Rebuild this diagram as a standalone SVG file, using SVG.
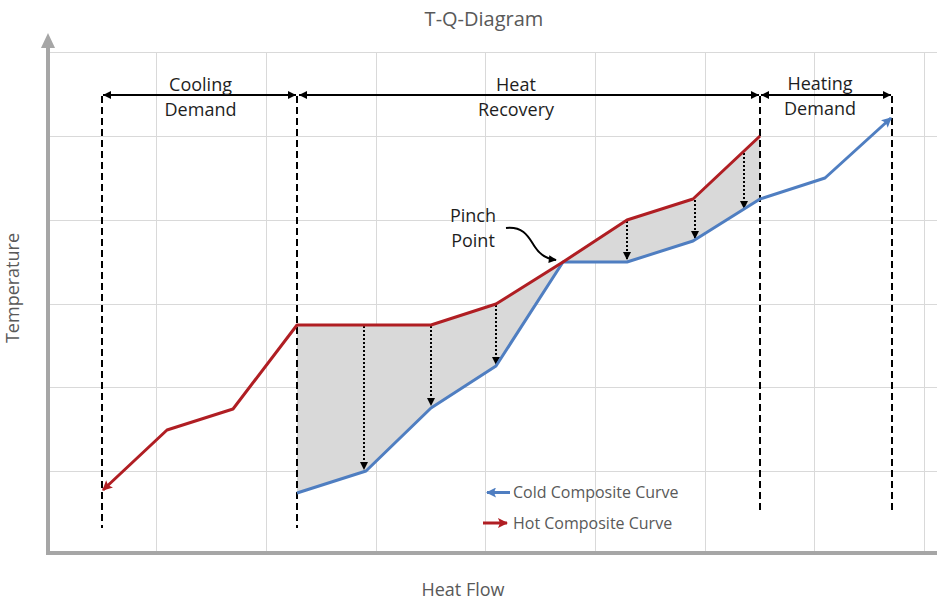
<svg xmlns="http://www.w3.org/2000/svg" width="937" height="603" viewBox="0 0 937 603">
  <style>
    .grid { stroke: #d9d9d9; stroke-width: 1; fill: none; }
    .axis { stroke: #a6a6a6; stroke-width: 4; fill: none; }
    .bound { stroke: #000; stroke-width: 2; stroke-dasharray: 7 4; fill: none; }
    .span { stroke: #000; stroke-width: 2; fill: none; marker-start: url(#tip); marker-end: url(#tip); }
    .drop { stroke: #000; stroke-width: 2; stroke-dasharray: 2 2; fill: none; marker-end: url(#dropTip); }
    .hot { stroke: #b01e23; stroke-width: 3; fill: none; stroke-linejoin: round; }
    .cold { stroke: #4f7ec1; stroke-width: 3; fill: none; stroke-linejoin: round; }
    .lbl { font-family: "Open Sans", "Liberation Sans", sans-serif; font-size: 18px; fill: #1e1e1e; text-anchor: middle; }
    .gray { font-family: "Open Sans", "Liberation Sans", sans-serif; fill: #595959; }
  </style>
  <defs>
    <marker id="tip" viewBox="0 0 10 10" refX="10" refY="5" markerUnits="userSpaceOnUse" markerWidth="9" markerHeight="8" orient="auto-start-reverse">
      <path d="M0,0 L10,5 L0,10 z" fill="#000"/>
    </marker>
    <marker id="dropTip" viewBox="0 0 10 10" refX="10" refY="5" markerUnits="userSpaceOnUse" markerWidth="8" markerHeight="9" orient="auto">
      <path d="M0,0 L10,5 L0,10 z" fill="#000"/>
    </marker>
    <marker id="hotTip" viewBox="0 0 10 10" refX="9" refY="5" markerUnits="userSpaceOnUse" markerWidth="11" markerHeight="10" orient="auto">
      <path d="M0,0 L10,5 L0,10 L2,5 z" fill="#b01e23"/>
    </marker>
    <marker id="coldTip" viewBox="0 0 10 10" refX="9" refY="5" markerUnits="userSpaceOnUse" markerWidth="11" markerHeight="10" orient="auto">
      <path d="M0,0 L10,5 L0,10 L2,5 z" fill="#4f7ec1"/>
    </marker>
    <marker id="pinchTip" viewBox="0 0 10 10" refX="9" refY="5" markerUnits="userSpaceOnUse" markerWidth="9" markerHeight="8" orient="auto">
      <path d="M0,0 L10,5 L0,10 z" fill="#000"/>
    </marker>
  </defs>

  <rect width="937" height="603" fill="#fff"/>

  <!-- background grid -->
  <g id="grid">
    <path class="grid" d="M50,52.5 H937 M50,136.5 H937 M50,220.5 H937 M50,304.5 H937 M50,387.5 H937 M50,471.5 H937"/>
    <path class="grid" d="M156.5,52 V551 M266.5,52 V551 M376.5,52 V551 M485.5,52 V551 M595.5,52 V551 M705.5,52 V551 M814.5,52 V551 M924.5,52 V551"/>
  </g>

  <!-- axes -->
  <g id="axes">
    <path class="axis" d="M48,555 V46"/>
    <path d="M41,48 L48,33 L55,48 z" fill="#a6a6a6"/>
    <path class="axis" d="M46,553 H937"/>
  </g>

  <!-- heat exchange area between the composite curves -->
  <polygon id="overlap" fill="#d9d9d9"
    points="297,325 431,325 496,304 563,262 627,220 693,199 760,136 760,199 693,241 627,262 563,262 496,366 431,408 366,471 297,493"/>

  <!-- zone boundaries -->
  <g id="zones">
    <path class="bound" d="M102,96 V528"/>
    <path class="bound" d="M297,96 V528"/>
    <path class="bound" d="M760,96 V512"/>
    <path class="bound" d="M892,96 V512"/>
    <path class="span" d="M103,95 H296"/>
    <path class="span" d="M299,95 H759"/>
    <path class="span" d="M761,95 H891"/>
  </g>

  <!-- heat transfer from hot to cold stream -->
  <g id="transfers">
    <path class="drop" d="M364,326 V470"/>
    <path class="drop" d="M431,326 V406"/>
    <path class="drop" d="M496,305 V365"/>
    <path class="drop" d="M627,221 V260"/>
    <path class="drop" d="M695,200 V239"/>
    <path class="drop" d="M744,153 V209"/>
  </g>

  <!-- composite curves -->
  <g id="curves">
    <polyline id="cold-curve" class="cold" marker-end="url(#coldTip)"
      points="297,493 366,471 431,408 496,366 563,262 627,262 693,241 760,199 825,178 891,118"/>
    <polyline id="hot-curve" class="hot" marker-end="url(#hotTip)"
      points="760,136 693,199 627,220 563,262 496,304 431,325 297,325 233,409 167,430 103,490"/>
  </g>

  <!-- pinch marker -->
  <g id="pinch">
    <path d="M506,228 C524,226 529,238 535,247 C540,255 548,259 556,260" stroke="#000" stroke-width="2" fill="none" marker-end="url(#pinchTip)"/>
    <text class="lbl" x="473" y="222">Pinch</text>
    <text class="lbl" x="473" y="247">Point</text>
  </g>

  <!-- zone labels -->
  <g id="zone-labels">
    <text class="lbl" x="200.5" y="91">Cooling</text>
    <text class="lbl" x="200.5" y="116">Demand</text>
    <text class="lbl" x="516" y="91">Heat</text>
    <text class="lbl" x="516" y="116">Recovery</text>
    <text class="lbl" x="820" y="90">Heating</text>
    <text class="lbl" x="820" y="115">Demand</text>
  </g>

  <!-- titles -->
  <g id="titles">
    <text class="gray" x="484" y="26" font-size="20" text-anchor="middle">T-Q-Diagram</text>
    <text class="gray" x="463" y="596" font-size="18" text-anchor="middle">Heat Flow</text>
    <text class="gray" transform="translate(19,288) rotate(-90)" font-size="18" text-anchor="middle">Temperature</text>
  </g>

  <!-- legend -->
  <g id="legend">
    <path d="M510,492.5 H487" stroke="#4f7ec1" stroke-width="3" marker-end="url(#coldTip)"/>
    <text class="gray" x="513" y="497.5" font-size="16">Cold Composite Curve</text>
    <path d="M483,523 H507" stroke="#b01e23" stroke-width="3" marker-end="url(#hotTip)"/>
    <text class="gray" x="513" y="529" font-size="16">Hot Composite Curve</text>
  </g>
</svg>
